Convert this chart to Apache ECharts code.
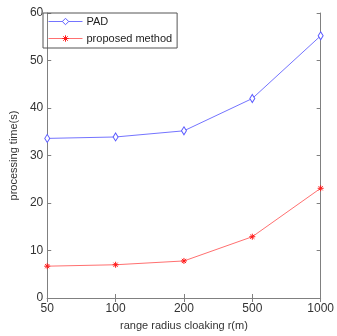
<!DOCTYPE html>
<html><head><meta charset="utf-8">
<script src="https://cdn.jsdelivr.net/npm/echarts@6/dist/echarts.min.js"></script>
<style>html,body{margin:0;padding:0;background:#fff}#c{width:337px;height:336px}</style>
</head><body><div id="c"></div>
<script>
var categories = ['50', '100', '200', '500', '1000'];
var padValues = [33.6, 33.9, 35.2, 42.0, 55.2];
var proposedValues = [6.7, 7.0, 7.8, 12.9, 23.1];
var yTicks = [0, 10, 20, 30, 40, 50, 60];

var axisColor = '#808080';
var textColor = '#333333';
var font = 'Liberation Sans, Arial, sans-serif';
var asterisk = 'path://M0 5L10 5M5 0L5 10M1.5 1.5L8.5 8.5M8.5 1.5L1.5 8.5';

var chart = echarts.init(document.getElementById('c'));
chart.setOption({
  animation: false,
  backgroundColor: '#fff',
  grid: {left: 43, right: 11, top: 13, bottom: 37, containLabel: false},
  legend: {
    left: 43, top: 13, orient: 'vertical',
    borderColor: '#555', borderWidth: 1, padding: [3, 5, 4, 5],
    itemWidth: 34, itemHeight: 8, itemGap: 6,
    lineStyle: {width: 1},
    itemStyle: {borderWidth: 1},
    textStyle: {fontFamily: font, fontSize: 11, color: '#222', padding: [0, 0, 0, -1]},
    data: ['PAD', 'proposed method']
  },
  xAxis: [{
    type: 'category', data: categories, boundaryGap: false, position: 'bottom',
    name: 'range radius cloaking r(m)', nameLocation: 'middle', nameGap: 22,
    nameTextStyle: {fontFamily: font, fontSize: 11, color: textColor},
    axisLine: {lineStyle: {color: axisColor, width: 1}},
    axisTick: {inside: true, length: 4, lineStyle: {color: axisColor}},
    axisLabel: {fontFamily: font, fontSize: 12, color: textColor, margin: 5},
    splitLine: {show: false}
  }, {
    type: 'category', data: categories, boundaryGap: false, position: 'top',
    axisLine: {lineStyle: {color: axisColor, width: 1}},
    axisTick: {inside: true, length: 4, lineStyle: {color: axisColor}},
    axisLabel: {show: false}, splitLine: {show: false}
  }],
  yAxis: [{
    type: 'value', min: yTicks[0], max: yTicks[yTicks.length - 1], interval: 10, position: 'left',
    name: 'processing time(s)', nameLocation: 'middle', nameGap: 21,
    nameTextStyle: {fontFamily: font, fontSize: 11, color: textColor},
    axisLine: {show: true, lineStyle: {color: axisColor, width: 1}},
    axisTick: {show: true, inside: true, length: 4, lineStyle: {color: axisColor}},
    axisLabel: {fontFamily: font, fontSize: 12, color: textColor, margin: 4},
    splitLine: {show: false}
  }, {
    type: 'value', min: yTicks[0], max: yTicks[yTicks.length - 1], interval: 10, position: 'right',
    axisLine: {show: true, lineStyle: {color: axisColor, width: 1}},
    axisTick: {show: true, inside: true, length: 4, lineStyle: {color: axisColor}},
    axisLabel: {show: false}, splitLine: {show: false}
  }],
  series: [{
    name: 'PAD', type: 'line', data: padValues,
    symbol: 'diamond', symbolSize: [5, 8], showAllSymbol: true,
    lineStyle: {color: '#7474ff', width: 1},
    itemStyle: {color: '#ffffff', borderColor: '#5a5aff', borderWidth: 1}
  }, {
    name: 'proposed method', type: 'line', data: proposedValues,
    symbol: asterisk, symbolSize: 6, showAllSymbol: true,
    lineStyle: {color: '#ff7070', width: 1},
    itemStyle: {color: 'rgba(0,0,0,0)', borderColor: '#ff1a1a', borderWidth: 1}
  }]
});
</script></body></html>
